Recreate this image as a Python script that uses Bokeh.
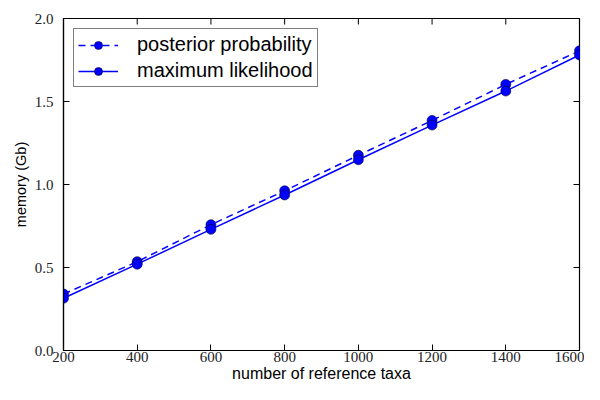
from bokeh.plotting import figure
from bokeh.models import Range1d, FixedTicker, NumeralTickFormatter, Legend, LegendItem
from bokeh.embed import file_html
from bokeh.resources import INLINE

# Data
taxa = [200, 400, 600, 800, 1000, 1200, 1400, 1600]
posterior = [0.34, 0.535, 0.758, 0.962, 1.176, 1.386, 1.603, 1.805]
max_lik = [0.315, 0.52, 0.73, 0.937, 1.149, 1.358, 1.563, 1.78]
x_ticks = [200, 400, 600, 800, 1000, 1200, 1400, 1600]
y_ticks = [0.0, 0.5, 1.0, 1.5, 2.0]
X_MIN, X_MAX = 200, 1600
Y_MIN, Y_MAX = 0.0, 2.0

SERIF = "Liberation Serif"
SANS = "Liberation Sans"
BLUE = "#0000ff"

p = figure(width=584, height=384, output_backend="svg", toolbar_location=None,
           x_range=Range1d(X_MIN, X_MAX), y_range=Range1d(Y_MIN, Y_MAX),
           min_border_left=63, min_border_right=5, min_border_top=18, min_border_bottom=20)
p.xgrid.visible = False
p.ygrid.visible = False
p.outline_line_color = "black"
p.outline_line_width = 1.2
p.background_fill_color = "white"
p.border_fill_color = "white"

def style_axis(ax):
    ax.axis_line_color = "black"
    ax.axis_line_width = 1.2
    ax.major_tick_in = 6
    ax.major_tick_out = 0
    ax.minor_tick_in = 0
    ax.minor_tick_out = 0
    ax.major_tick_line_color = "black"
    ax.major_label_text_font = SERIF
    ax.major_label_text_font_size = "15px"
    ax.major_label_text_color = "#222222"
    ax.axis_label_text_font = SANS
    ax.axis_label_text_font_style = "normal"
    ax.axis_label_text_color = "black"

xa = p.xaxis[0]
xa.ticker = FixedTicker(ticks=x_ticks)
xa.axis_label = "number of reference taxa"
style_axis(xa)
xa.axis_label_text_font_size = "16px"
xa.major_label_standoff = 1
xa.axis_label_standoff = 0

ya = p.yaxis[0]
ya.ticker = FixedTicker(ticks=y_ticks)
ya.formatter = NumeralTickFormatter(format="0.0")
ya.axis_label = "memory (Gb)"
style_axis(ya)
ya.axis_label_text_font_size = "14.5px"
ya.major_label_standoff = 10
ya.axis_label_standoff = 3

# tick marks on the top and right edges (matplotlib style), half clipped by the frame
p.scatter(x_ticks, [Y_MAX] * len(x_ticks), marker="dash", angle=1.5708, size=12,
          line_color="black", line_width=1)
p.scatter([X_MAX] * len(y_ticks), y_ticks, marker="dash", size=12,
          line_color="black", line_width=1)

l1 = p.line(taxa, posterior, line_color=BLUE, line_width=1.5, line_dash="7 5")
s1 = p.scatter(taxa, posterior, size=10, fill_color=BLUE, line_color="#000033", line_width=0.6)
l2 = p.line(taxa, max_lik, line_color=BLUE, line_width=1.5)
s2 = p.scatter(taxa, max_lik, size=10, fill_color=BLUE, line_color="#000033", line_width=0.6)

legend = Legend(items=[
    LegendItem(label="posterior probability", renderers=[l1, s1]),
    LegendItem(label="maximum likelihood", renderers=[l2, s2]),
], location="top_left")
legend.label_text_font = SANS
legend.label_text_font_size = "20px"
legend.label_text_color = "black"
legend.border_line_color = "black"
legend.border_line_width = 1
legend.margin = 10
legend.padding = 4
legend.spacing = 3
legend.label_height = 20
legend.glyph_height = 20
legend.glyph_width = 40
legend.label_standoff = 19
legend.background_fill_alpha = 1
p.add_layout(legend)

open("out.html", "w").write(file_html(p, INLINE))
